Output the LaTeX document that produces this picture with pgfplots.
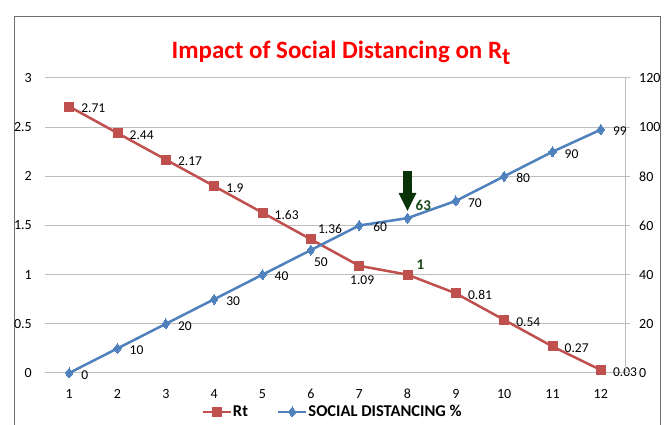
\documentclass[border=0pt]{standalone}
\usepackage{pgfplots}
\pgfplotsset{compat=1.18}
\usepackage{fontspec}
\setmainfont{Carlito}
\definecolor{rtred}{RGB}{192,80,77}
\definecolor{sdblue}{RGB}{79,129,189}
\definecolor{dgreen}{RGB}{28,76,28}
\definecolor{arrowgreen}{RGB}{8,52,8}
\definecolor{gridgray}{RGB}{190,190,190}
\definecolor{framegray}{RGB}{110,110,110}
\newcommand{\lblfont}{\fontsize{13.5}{13.5}\selectfont}
\newcommand{\tickfont}{\fontsize{14}{14}\selectfont}
\begin{document}
\begin{tikzpicture}
\useasboundingbox (0,0) rectangle (664pt,425pt);
\fill[white] (0,0) rectangle (664pt,425pt);
\draw[framegray, line width=1pt] (14pt,-5pt) rectangle (660pt,408pt);
\node[text=red, font=\bfseries\fontsize{25}{25}\selectfont] at (341pt,372pt)
  {Impact of Social Distancing on R\raisebox{-6pt}{\fontsize{24}{24}\selectfont t}};
\begin{axis}[
  scale only axis, width=580pt, height=295pt,
  at={(45pt,52pt)}, anchor=south west,
  xmin=0.5, xmax=12.5, ymin=0, ymax=3,
  xtick={1,...,12}, ytick={0,0.5,...,3},
  axis x line*=bottom, axis y line*=left,
  y axis line style={draw=none},
  x axis line style={draw=gridgray, line width=1pt},
  ymajorgrids, grid style={gridgray, line width=1pt},
  major tick length=0pt,
  tick label style={font=\tickfont},
  /pgf/number format/assume math mode=true,
  yticklabel style={inner sep=0pt, xshift=-13pt},
  xticklabel style={inner sep=0pt, yshift=-16pt},
  clip=false,
  legend style={at={(0.495,-0.132)}, anchor=center, draw=none, fill=none,
    legend columns=2, font=\bfseries\fontsize{16.5}{16.5}\selectfont,
    nodes={inner sep=1pt},
    /tikz/every even column/.append style={column sep=28pt},
    inner sep=0pt},
  legend image code/.code={\draw[mark repeat=2,mark phase=2,#1] plot coordinates {(0pt,0pt) (14pt,0pt) (28pt,0pt)};},
  every node near coord/.append style={text=black, font=\lblfont, inner sep=0pt, draw=none, fill=none},
]
\addplot[rtred, line width=2.5pt, mark=square*, mark size=4.5pt, mark options={solid, line width=0pt}]
  coordinates {(1,2.71) (2,2.44) (3,2.17) (4,1.9) (5,1.63) (6,1.36) (7,1.09) (8,1) (9,0.81) (10,0.54) (11,0.27) (12,0.03)};
\addlegendentry{Rt}
\addlegendimage{sdblue, line width=2.5pt, mark=diamond*, mark size=5pt, mark options={solid, line width=0pt}}
\addlegendentry{SOCIAL DISTANCING \%}
% regular Rt labels
\addplot[draw=none, mark=none, point meta=explicit symbolic, nodes near coords,
  every node near coord/.append style={anchor=west, xshift=12pt, yshift=-2pt}]
  coordinates {(1,2.71)[2.71] (2,2.44)[2.44] (3,2.17)[2.17] (4,1.9)[1.9] (5,1.63)[1.63] (9,0.81)[0.81] (10,0.54)[0.54] (11,0.27)[0.27] (12,0.03)[0.03]};
\addplot[draw=none, mark=none, point meta=explicit symbolic, nodes near coords,
  every node near coord/.append style={anchor=west, xshift=7pt, yshift=10pt}]
  coordinates {(6,1.36)[1.36]};
\addplot[draw=none, mark=none, point meta=explicit symbolic, nodes near coords,
  every node near coord/.append style={anchor=center, xshift=3pt, yshift=-14pt}]
  coordinates {(7,1.09)[1.09]};
\addplot[draw=none, mark=none, point meta=explicit symbolic, nodes near coords,
  every node near coord/.append style={anchor=west, xshift=9pt, yshift=10pt, text=dgreen, font=\bfseries\fontsize{15}{15}\selectfont}]
  coordinates {(8,1)[1]};
\fill[arrowgreen] (axis cs:7.907,2.054) -- (axis cs:8.093,2.054) -- (axis cs:8.093,1.831)
  -- (axis cs:8.186,1.831) -- (axis cs:8,1.648) -- (axis cs:7.814,1.831) -- (axis cs:7.907,1.831) -- cycle;
\end{axis}
\begin{axis}[
  scale only axis, width=580pt, height=295pt,
  at={(45pt,52pt)}, anchor=south west,
  xmin=0.5, xmax=12.5, ymin=0, ymax=120,
  axis x line=none, axis y line*=right,
  ytick={0,20,...,120},
  y axis line style={draw=gridgray, line width=1pt},
  tick align=outside, major tick length=5pt,
  tick style={gridgray, line width=1pt},
  tick label style={font=\tickfont},
  /pgf/number format/assume math mode=true,
  yticklabel style={inner sep=0pt, xshift=9pt},
  clip=false,
  every node near coord/.append style={text=black, font=\lblfont, inner sep=0pt, draw=none, fill=none},
]
\addplot[sdblue, line width=2.5pt, mark=diamond*, mark size=5pt, mark options={solid, line width=0pt}]
  coordinates {(1,0) (2,10) (3,20) (4,30) (5,40) (6,50) (7,60) (8,63) (9,70) (10,80) (11,90) (12,99)};
\addplot[draw=none, mark=none, point meta=explicit symbolic, nodes near coords,
  every node near coord/.append style={anchor=west, xshift=12pt, yshift=-2pt}]
  coordinates {(1,0)[0] (2,10)[10] (3,20)[20] (4,30)[30] (5,40)[40] (9,70)[70] (10,80)[80] (11,90)[90] (12,99)[99]};
\addplot[draw=none, mark=none, point meta=explicit symbolic, nodes near coords,
  every node near coord/.append style={anchor=west, xshift=3pt, yshift=-12pt}]
  coordinates {(6,50)[50]};
\addplot[draw=none, mark=none, point meta=explicit symbolic, nodes near coords,
  every node near coord/.append style={anchor=west, xshift=14pt, yshift=-1pt}]
  coordinates {(7,60)[60]};
\addplot[draw=none, mark=none, point meta=explicit symbolic, nodes near coords,
  every node near coord/.append style={anchor=west, xshift=8pt, yshift=13pt, text=dgreen, font=\bfseries\fontsize{15}{15}\selectfont}]
  coordinates {(8,63)[63]};
\end{axis}
\end{tikzpicture}
\end{document}
